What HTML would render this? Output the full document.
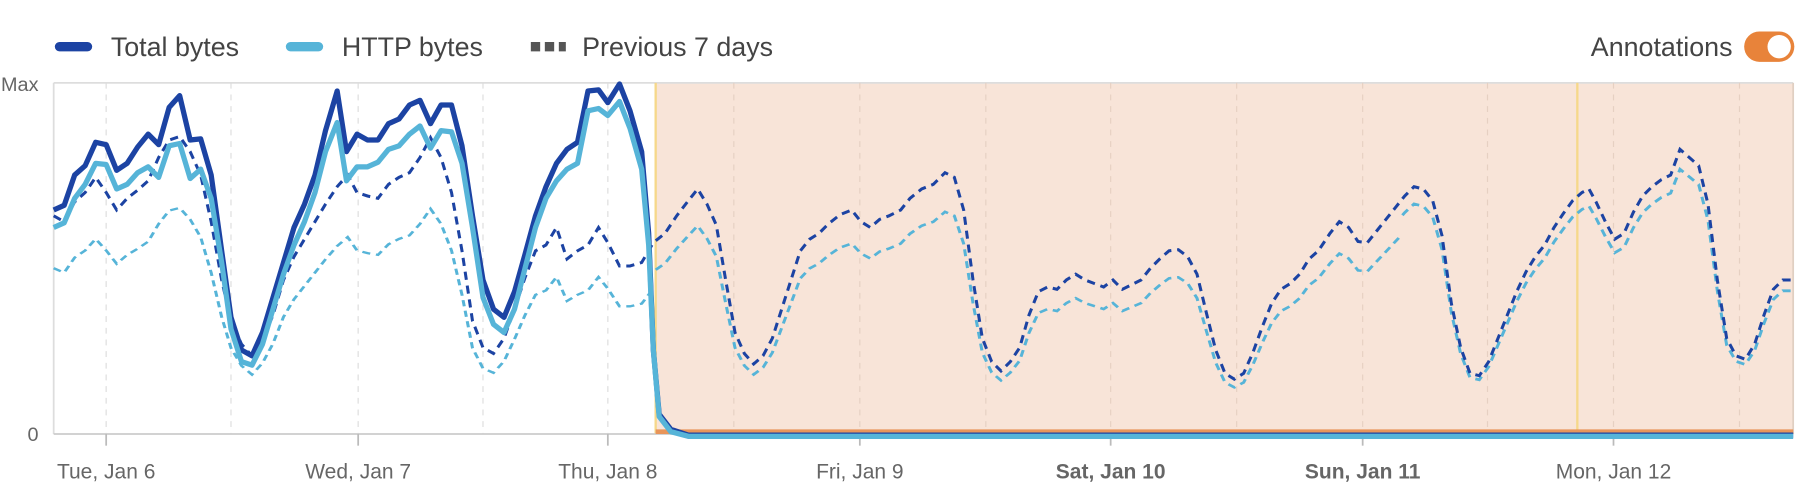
<!DOCTYPE html>
<html><head><meta charset="utf-8"><style>
html,body{margin:0;padding:0;background:#fff;width:1820px;height:504px;overflow:hidden}
svg{display:block;font-family:"Liberation Sans",Arial,sans-serif}
</style></head><body>
<svg width="1820" height="504" viewBox="0 0 1560 432" preserveAspectRatio="none">
<defs>
<clipPath id="cA"><rect x="0" y="0" width="560" height="432"/></clipPath>
<clipPath id="cB"><rect x="560" y="0" width="640" height="432"/></clipPath>
<clipPath id="cC"><rect x="1200" y="0" width="400" height="432"/></clipPath>
<path id="prev" fill="none" d="M46,185 L55,190 L64,173 L73,165 L82,152 L91,165 L100,180 L109,170 L118,163 L127,155 L136,135 L145,120 L154,117 L163,130 L172,150 L181,190 L190,240 L198,275 L207,295 L216,305 L225,292 L234,270 L243,240 L252,220 L261,205 L270,190 L279,175 L289,160 L298,150 L306,165 L315,168 L324,170 L333,158 L342,152 L351,148 L360,135 L369,118 L378,135 L387,165 L396,215 L405,275 L414,298 L423,303 L432,290 L441,265 L450,238 L459,215 L468,210 L477,195 L486,222 L495,215 L504,210 L513,195 L521,208 L531,228 L540,228 L550,225 L560,208 L570,200 L580,185 L590,172 L598,162 L606,175 L614,193 L622,240 L630,285 L638,303 L646,312 L654,305 L662,290 L670,265 L678,240 L686,215 L694,205 L702,200 L710,192 L720,184 L730,180 L738,190 L746,195 L754,188 L762,185 L772,180 L780,170 L790,162 L800,158 L810,148 L818,152 L826,180 L834,240 L842,290 L850,310 L858,318 L866,310 L874,298 L882,270 L890,250 L898,246 L906,248 L914,240 L922,235 L930,240 L938,243 L946,246 L954,240 L962,248 L970,244 L978,240 L986,230 L994,222 L1002,215 L1010,214 L1018,220 L1026,235 L1034,268 L1042,300 L1050,320 L1058,325 L1066,320 L1074,302 L1082,280 L1090,260 L1098,248 L1106,243 L1114,235 L1122,222 L1130,215 L1140,200 L1148,190 L1156,195 L1164,207 L1172,208 L1180,198 L1188,188 L1196,178 L1204,168 L1212,160 L1220,162 L1228,172 L1236,202 L1244,260 L1252,298 L1260,320 L1268,322 L1276,310 L1284,290 L1292,270 L1300,250 L1308,233 L1316,220 L1324,210 L1332,195 L1340,183 L1348,172 L1356,165 L1362,162 L1368,173 L1376,190 L1384,205 L1392,200 L1400,182 L1408,168 L1416,160 L1424,154 L1432,150 L1440,128 L1448,135 L1456,142 L1464,175 L1472,240 L1480,290 L1488,305 L1496,308 L1504,295 L1512,270 L1520,248 L1528,240 L1537,240"/>
</defs>
<!-- legend -->
<line x1="51" y1="40" x2="75" y2="40" stroke="#1c43a3" stroke-width="8" stroke-linecap="round"/>
<text x="95" y="48" font-size="23" fill="#444">Total bytes</text>
<line x1="249" y1="40" x2="273" y2="40" stroke="#56b4d8" stroke-width="8" stroke-linecap="round"/>
<text x="293" y="48" font-size="23" fill="#444">HTTP bytes</text>
<line x1="455" y1="40" x2="485" y2="40" stroke="#555" stroke-width="8" stroke-dasharray="8,4"/>
<text x="499" y="48" font-size="23" fill="#444">Previous 7 days</text>
<text x="1485" y="48" font-size="23" fill="#444" text-anchor="end">Annotations</text>
<rect x="1495" y="27" width="43" height="26" rx="13" fill="#e8833a"/>
<circle cx="1525" cy="40" r="10" fill="#fff"/>
<!-- plot frame -->
<rect x="562" y="71" width="975" height="301" fill="#f8e4d8"/>
<line x1="46" y1="71" x2="1537" y2="71" stroke="#ddd" stroke-width="1.5"/>
<line x1="46" y1="71" x2="46" y2="372" stroke="#ddd" stroke-width="1.5"/>
<line x1="1537" y1="71" x2="1537" y2="372" stroke="#e0cfc2" stroke-width="1.5"/>
<g stroke="#ddd" stroke-width="1" stroke-dasharray="5,5">
<line x1="91" y1="71" x2="91" y2="372"/><line x1="198" y1="71" x2="198" y2="372"/><line x1="307" y1="71" x2="307" y2="372"/><line x1="414" y1="71" x2="414" y2="372"/><line x1="521" y1="71" x2="521" y2="372"/>
</g>
<g stroke="#e6d0c2" stroke-width="1" stroke-dasharray="5,5">
<line x1="629" y1="71" x2="629" y2="372"/><line x1="737" y1="71" x2="737" y2="372"/><line x1="845" y1="71" x2="845" y2="372"/><line x1="952" y1="71" x2="952" y2="372"/><line x1="1060" y1="71" x2="1060" y2="372"/><line x1="1168" y1="71" x2="1168" y2="372"/><line x1="1275" y1="71" x2="1275" y2="372"/><line x1="1383" y1="71" x2="1383" y2="372"/><line x1="1491" y1="71" x2="1491" y2="372"/>
</g>
<line x1="562" y1="71" x2="562" y2="372" stroke="#f6d88a" stroke-width="2"/>
<line x1="1352" y1="71" x2="1352" y2="372" stroke="#f6d88a" stroke-width="2"/>
<line x1="46" y1="372" x2="1537" y2="372" stroke="#ccc" stroke-width="1.5"/>
<g stroke="#bbb" stroke-width="1.5">
<line x1="91" y1="372" x2="91" y2="382"/><line x1="307" y1="372" x2="307" y2="382"/><line x1="521" y1="372" x2="521" y2="382"/><line x1="737" y1="372" x2="737" y2="382"/><line x1="952" y1="372" x2="952" y2="382"/><line x1="1168" y1="372" x2="1168" y2="382"/><line x1="1383" y1="372" x2="1383" y2="382"/>
</g>
<text x="33" y="78" font-size="17" fill="#666" text-anchor="end">Max</text>
<text x="33" y="378" font-size="17" fill="#666" text-anchor="end">0</text>
<g font-size="18" fill="#666" text-anchor="middle">
<text x="91" y="410">Tue, Jan 6</text><text x="307" y="410">Wed, Jan 7</text><text x="521" y="410">Thu, Jan 8</text><text x="737" y="410">Fri, Jan 9</text>
<text x="952" y="410" font-weight="bold">Sat, Jan 10</text><text x="1168" y="410" font-weight="bold">Sun, Jan 11</text><text x="1383" y="410">Mon, Jan 12</text>
</g>
<!-- previous 7 days light -->
<g clip-path="url(#cA)"><use href="#prev" transform="translate(0,372) scale(1,0.76) translate(0,-372)" stroke="#56b4d8" stroke-width="2.6" stroke-dasharray="7,5"/></g>
<g clip-path="url(#cB)"><use href="#prev" transform="translate(0,372) scale(1,0.85) translate(0,-372)" stroke="#56b4d8" stroke-width="2.6" stroke-dasharray="7,5"/></g>
<g clip-path="url(#cC)"><use href="#prev" transform="translate(0,372) scale(1,0.93) translate(0,-372)" stroke="#56b4d8" stroke-width="2.6" stroke-dasharray="7,5"/></g>
<use href="#prev" stroke="#1c43a3" stroke-width="2.6" stroke-dasharray="7,5"/>
<!-- orange bar -->
<line x1="562" y1="370" x2="1537" y2="370" stroke="#e8955a" stroke-width="4"/>
<!-- total -->
<polyline fill="none" stroke="#1c43a3" stroke-width="4.5" stroke-linejoin="round" points="46,180 55,176 64,150 73,142 82,122 91,124 100,146 109,140 118,126 127,115 136,124 145,92 154,82 163,120 172,119 181,150 190,215 198,272 207,300 216,305 225,285 234,255 243,225 252,195 261,175 270,150 279,112 289,78 297,130 306,115 315,120 324,120 333,106 342,102 351,90 360,86 369,106 378,90 387,90 396,125 405,185 414,240 423,265 432,272 441,250 450,218 459,185 468,160 477,140 486,128 495,122 504,78 513,77 521,88 531,72 540,95 550,130 556,200 560,300 565,355 575,368 590,373 1537,373"/>
<polyline fill="none" stroke="#56b4d8" stroke-width="4.5" stroke-linejoin="round" points="46,195 55,191 64,170 73,158 82,140 91,141 100,162 109,158 118,148 127,143 136,152 145,125 154,123 163,153 172,145 181,170 190,225 198,282 207,310 216,313 225,295 234,265 243,235 252,210 261,190 270,165 279,130 289,105 297,155 306,143 315,143 324,139 333,128 342,125 351,115 360,108 369,127 378,112 387,113 396,140 405,195 414,255 423,278 432,285 441,265 450,230 459,195 468,170 477,155 486,145 495,140 504,95 513,93 521,99 531,87 540,110 550,145 556,210 560,300 565,357 575,370 590,374 1537,374"/>
</svg>
</body></html>
